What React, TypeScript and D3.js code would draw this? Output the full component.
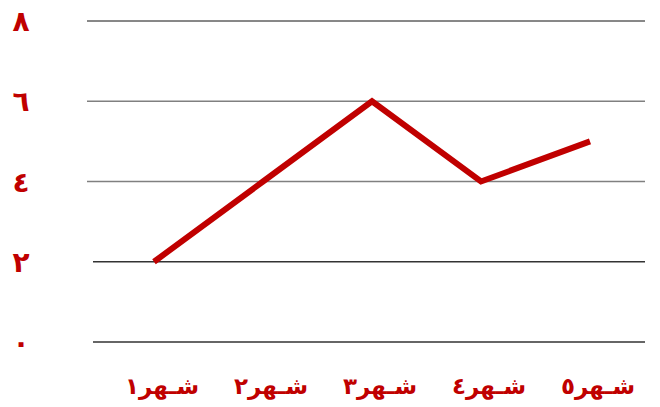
import React from "react";
import * as d3 from "d3";

const months = ["شـهر١", "شـهر٢", "شـهر٣", "شـهر٤", "شـهر٥"];
const values = [2, 4, 6, 4, 5];
const yTicks = [0, 2, 4, 6, 8];
const yTickLabels = ["٠", "٢", "٤", "٦", "٨"];

const width = 660;
const height = 407;
const red = "#c00000";

const App = () => {
  const x = d3.scalePoint<string>().domain(months).range([154, 590]);
  const y = d3.scaleLinear().domain([0, 8]).range([342, 21]);

  const line = d3
    .line<number>()
    .x((d, i) => x(months[i]) as number)
    .y((d) => y(d));

  return (
    <svg
      width={width}
      height={height}
      style={{ position: "absolute", left: 0, top: 0, background: "#fff" }}
    >
      {/* grid lines */}
      <g className="grid">
        {yTicks.map((t) => (
          <line
            key={t}
            x1={t >= 4 ? 87 : 93}
            x2={645}
            y1={y(t)}
            y2={y(t)}
            stroke={t === 8 ? "#111" : t >= 4 ? "#808080" : "#333"}
            strokeWidth={t === 8 ? 1 : 1.3}
          />
        ))}
      </g>
      {/* y labels */}
      <g className="y-labels">
        {yTicks.map((t, i) => (
          <text
            key={t}
            x={21}
            y={y(t)}
            dy="0.36em"
            textAnchor="middle"
            fill={red}
            fontFamily="DejaVu Sans"
            fontWeight="bold"
            fontSize={28}
          >
            {yTickLabels[i]}
          </text>
        ))}
      </g>
      <path
        d={line(values) || ""}
        fill="none"
        stroke={red}
        strokeWidth={6}
        strokeLinejoin="miter"
      />
      {/* x labels */}
      <g className="x-labels">
        {months.map((m) => (
          <text
            key={m}
            x={(x(m) as number) + 8}
            y={394}
            textAnchor="middle"
            fill={red}
            fontFamily="DejaVu Sans"
            fontWeight="bold"
            fontSize={23}
          >
            {m}
          </text>
        ))}
      </g>
    </svg>
  );
};

export default App;
